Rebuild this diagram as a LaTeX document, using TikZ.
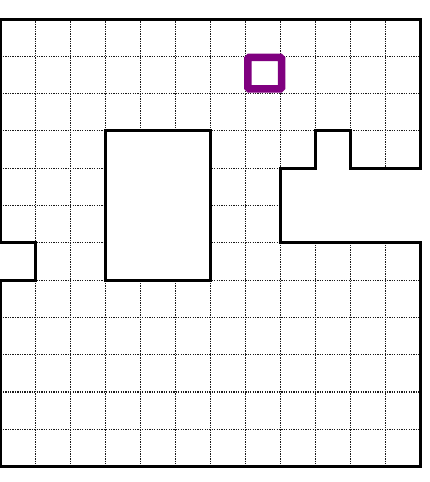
\documentclass[tikz,border=0pt]{standalone}
\usepackage{tikz}
\definecolor{morado}{HTML}{800080}
\definecolor{negro}{HTML}{000000}
\definecolor{puntos}{HTML}{1A1A1A}

\begin{document}
\begin{tikzpicture}[x=35pt, y=-37.3pt,
    rejilla/.style={puntos, line width=1.1pt, dash pattern=on 1.3pt off 1.1pt},
    muro/.style={negro, line width=3pt, line join=miter},
    meta/.style={draw=morado, line width=7.5pt, rounded corners=1.5pt,
      minimum width=33.7pt, minimum height=31.6pt, inner sep=0pt}]

  \def\NX{12}   % columnas
  \def\NY{12}   % filas

  % ── Marco de la imagen ────────────────────────────────────
  \useasboundingbox (-0.5pt,19pt) rectangle (429.5pt,-463pt);

  % ── Rejilla punteada (solo zona libre) ────────────────────
  \begin{scope}
    \clip (0,0) -- (\NX,0) -- (\NX,4) -- (10,4) -- (10,3) -- (9,3)
      -- (9,4) -- (8,4) -- (8,6) -- (\NX,6) -- (\NX,\NY) -- (0,\NY)
      -- (0,7) -- (1,7) -- (1,6) -- (0,6) -- cycle;
    \foreach \i in {1,...,11}{
      \draw[rejilla] (\i,0) -- (\i,\NY);
      \draw[rejilla] (0,\i) -- (\NX,\i);
    }
  \end{scope}

  % ── Obstáculo central ─────────────────────────────────────
  \fill[white] (3,3) rectangle (6,7);
  \draw[muro] (3,3) rectangle (6,7);

  % ── Contorno exterior ─────────────────────────────────────
  \draw[muro] (0,0) -- (\NX,0) -- (\NX,4) -- (10,4) -- (10,3) -- (9,3)
    -- (9,4) -- (8,4) -- (8,6) -- (\NX,6) -- (\NX,\NY) -- (0,\NY)
    -- (0,7) -- (1,7) -- (1,6) -- (0,6) -- cycle;

  % ── Casilla objetivo ──────────────────────────────────────
  \node[meta] (objetivo) at (7.55,1.45) {};

\end{tikzpicture}
\end{document}
